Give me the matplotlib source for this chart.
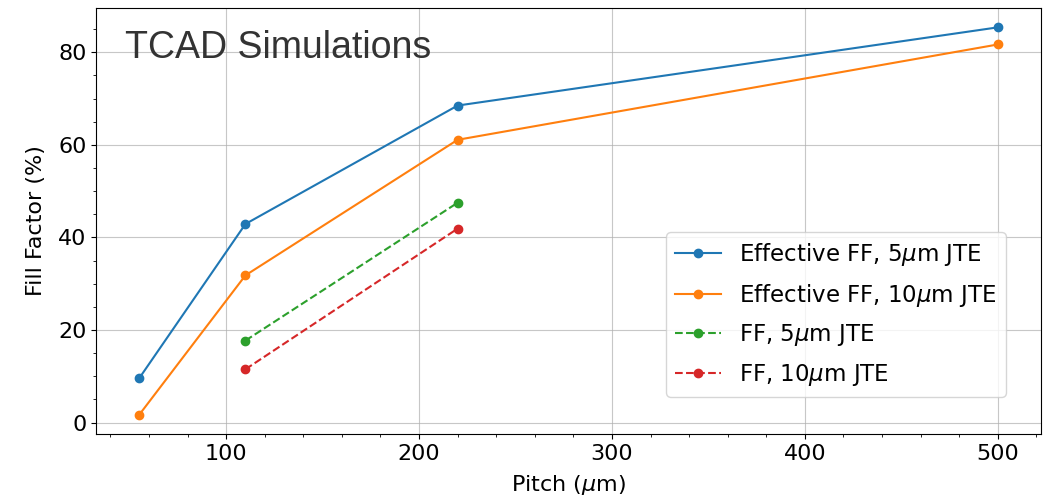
import matplotlib
matplotlib.use('Agg')
import matplotlib.pyplot as plt

pitch_eff = [55, 110, 220, 500]
eff_ff_5 = [9.6, 42.9, 68.5, 85.4]
eff_ff_10 = [1.7, 31.8, 61.1, 81.7]

pitch_ff = [110, 220]
ff_5 = [17.7, 47.5]
ff_10 = [11.5, 41.9]

fig, ax = plt.subplots(figsize=(10.48, 5.0), dpi=100)

ax.plot(pitch_eff, eff_ff_5, '-o', color='tab:blue', label=r'Effective FF, 5$\mu$m JTE')
ax.plot(pitch_eff, eff_ff_10, '-o', color='tab:orange', label=r'Effective FF, 10$\mu$m JTE')
ax.plot(pitch_ff, ff_5, '--o', color='tab:green', label=r'FF, 5$\mu$m JTE')
ax.plot(pitch_ff, ff_10, '--o', color='tab:red', label=r'FF, 10$\mu$m JTE')

ax.set_xlabel(r'Pitch ($\mu$m)', fontsize=16, labelpad=7)
ax.set_ylabel('Fill Factor (%)', fontsize=16, labelpad=9)
ax.tick_params(labelsize=16)
ax.minorticks_on()
ax.grid(True, which='major', alpha=0.7)
ax.legend(loc='lower right', bbox_to_anchor=(0.963, 0.087), borderaxespad=0,
          fontsize=16.5, labelspacing=0.59)

ax.text(0.03, 0.905, 'TCAD Simulations', transform=ax.transAxes, fontsize=27,
        family='Liberation Sans', color='#333333', va='center')

plt.subplots_adjust(left=0.092, right=0.993, top=0.984, bottom=0.132)
plt.savefig('out.png', dpi=100)
